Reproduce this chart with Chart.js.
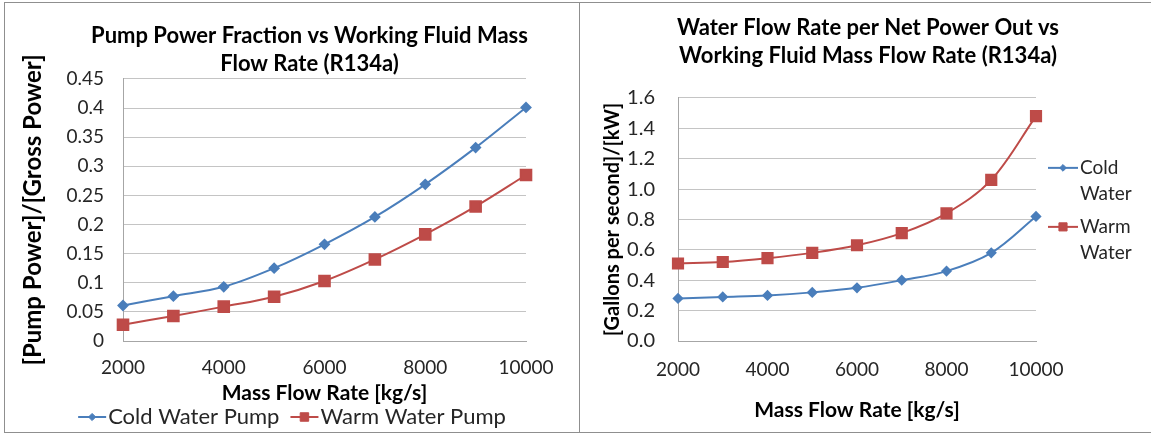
<!DOCTYPE html>
<html>
<head>
<meta charset="utf-8">
<title>R134a pump power and water flow</title>
<script src="https://cdn.jsdelivr.net/npm/chart.js@4.4.1/dist/chart.umd.min.js"></script>
<style>
  html, body { margin: 0; background: #fff; overflow: hidden; }
  .panel { position: absolute; top: 2px; height: 431px; box-sizing: border-box; border: 1px solid #8f8f8f; background: #fff; }
  #leftPanel { left: 4px; width: 577px; }
  #rightPanel { left: 579px; width: 600px; }
  canvas { display: block; }
</style>
</head>
<body>
<div class="panel" id="leftPanel"><canvas id="pumpChart" width="574" height="429"></canvas></div>
<div class="panel" id="rightPanel"><canvas id="flowChart" width="571" height="429"></canvas></div>
<script>
// Working fluid mass flow rate [kg/s]
const massFlow = [2000, 3000, 4000, 5000, 6000, 7000, 8000, 9000, 10000];

// Pump power / gross power
const coldPumpFraction = [0.061, 0.077, 0.093, 0.125, 0.166, 0.213, 0.269, 0.332, 0.401];
const warmPumpFraction = [0.028, 0.043, 0.059, 0.076, 0.103, 0.140, 0.183, 0.231, 0.285];

// Gallons per second of water per kW net
const coldWaterPerKw = [0.28, 0.29, 0.30, 0.32, 0.35, 0.40, 0.46, 0.58, 0.82];
const warmWaterPerKw = [0.51, 0.52, 0.545, 0.58, 0.63, 0.71, 0.84, 1.06, 1.48];

// axis ticks
const massTicks = [2000, 4000, 6000, 8000, 10000];
const fractionTicks = [0, 0.05, 0.1, 0.15, 0.2, 0.25, 0.3, 0.35, 0.4, 0.45];
const perKwTicks = [0, 0.2, 0.4, 0.6, 0.8, 1.0, 1.2, 1.4, 1.6];

const FONT = 'Lato, "Open Sans", sans-serif';
const BLUE = '#4a7ebb';
const RED = '#be4b48';
const GRID = '#c4c4c4';
const AXIS = '#a6a6a6';
const TEXT = '#262626';

function series(label, values, color, style, radius) {
  return {
    label,
    data: massFlow.map((x, i) => ({ x, y: values[i] })),
    borderColor: color,
    backgroundColor: color,
    pointBackgroundColor: color,
    pointBorderColor: color,
    pointStyle: style,
    pointRadius: radius,
    borderWidth: 2,
    tension: 0.35,
    clip: false
  };
}

// excel-style legend: line with marker, label can wrap to several lines
const lineLegend = {
  id: 'lineLegend',
  afterDraw(chart, args, o) {
    const { ctx, chartArea } = chart;
    const font = Chart.helpers.toFont(o.font);
    const maxW = o.maxWidth || Infinity;
    ctx.save();
    ctx.font = font.string;
    ctx.textBaseline = 'middle';
    const items = chart.data.datasets.map(ds => {
      const lines = [];
      ds.label.split(' ').forEach(word => {
        const last = lines[lines.length - 1];
        if (last && ctx.measureText(last + ' ' + word).width <= maxW) lines[lines.length - 1] = last + ' ' + word;
        else lines.push(word);
      });
      const width = Math.max(...lines.map(l => ctx.measureText(l).width));
      return { ds, lines, width };
    });
    let x, y;
    if (o.column) {
      x = chartArea.right + o.dx;
      y = chartArea.top + o.dy;
    } else {
      const total = items.reduce((s, it) => s + o.sample + o.gap + it.width, 0) + o.itemGap * (items.length - 1);
      x = (chart.width - total) / 2;
      y = chartArea.bottom + o.dy;
    }
    items.forEach(({ ds, lines, width }) => {
      ctx.strokeStyle = ds.borderColor;
      ctx.lineWidth = ds.borderWidth;
      ctx.beginPath();
      ctx.moveTo(x, y);
      ctx.lineTo(x + o.sample, y);
      ctx.stroke();
      ctx.fillStyle = ds.pointBackgroundColor;
      ctx.strokeStyle = ds.pointBorderColor;
      ctx.lineWidth = 1;
      Chart.helpers.drawPoint(ctx, { pointStyle: ds.pointStyle, radius: ds.pointRadius * 0.8, rotation: 0, borderWidth: 1 }, x + o.sample / 2, y);
      ctx.fillStyle = o.color;
      lines.forEach((line, i) => ctx.fillText(line, x + o.sample + o.gap, y + i * o.lineHeight));
      if (o.column) y += lines.length * o.lineHeight + o.itemGap;
      else x += o.sample + o.gap + width + o.itemGap;
    });
    ctx.restore();
  }
};

// nudge the chart title sideways
const titleOffset = {
  id: 'titleOffset',
  afterLayout(chart, args, o) {
    const t = chart.titleBlock;
    if (t) { t.left += o.dx; t.right += o.dx; }
  }
};

// Pump power fraction
new Chart(document.getElementById('pumpChart'), {
  type: 'line',
  data: {
    datasets: [
      series('Cold Water Pump', coldPumpFraction, BLUE, 'rectRot', 4.5),
      series('Warm Water Pump', warmPumpFraction, RED, 'rect', 7.5)
    ]
  },
  options: {
    responsive: false,
    animation: false,
    layout: { padding: { top: 0, right: 53, bottom: 26, left: 0 } },
    plugins: {
      legend: { display: false },
      tooltip: { enabled: false },
      title: {
        display: true,
        text: ['Pump Power Fraction vs Working Fluid Mass', 'Flow Rate (R134a)'],
        color: '#000',
        font: { family: FONT, size: 22, weight: 'bold', lineHeight: 1.27 },
        padding: { top: 19, bottom: 1 }
      },
      titleOffset: { dx: 44 },
      lineLegend: {
        dy: 76, sample: 28, gap: 2, itemGap: 11, lineHeight: 26,
        font: { family: FONT, size: 22 }, color: TEXT
      }
    },
    scales: {
      x: {
        type: 'linear',
        min: 2000,
        max: 10000,
        afterBuildTicks: s => { s.ticks = massTicks.map(value => ({ value })); },
        afterFit: s => { s.height = 65; },
        grid: { display: false, drawTicks: false },
        border: { color: AXIS, width: 1 },
        ticks: { padding: 15, color: TEXT, font: { family: FONT, size: 19 }, callback: v => String(v) },
        title: {
          display: true, text: 'Mass Flow Rate [kg/s]', color: '#000',
          font: { family: FONT, size: 21, weight: 'bold' }, padding: { top: 0, bottom: 0 }
        }
      },
      y: {
        min: 0,
        max: 0.45,
        afterBuildTicks: s => { s.ticks = fractionTicks.map(value => ({ value })); },
        afterFit: s => { s.width = 118; },
        grid: { color: GRID, drawTicks: false },
        border: { color: AXIS, width: 1 },
        ticks: { padding: 19, color: TEXT, font: { family: FONT, size: 19 }, callback: v => String(v) },
        title: {
          display: true, text: '[Pump Power]/[Gross Power]', color: '#000',
          font: { family: FONT, size: 24, weight: 'bold' }, padding: { top: 14, bottom: 0 }
        }
      }
    }
  },
  plugins: [lineLegend, titleOffset]
});

// Water flow per net power
new Chart(document.getElementById('flowChart'), {
  type: 'line',
  data: {
    datasets: [
      series('Cold Water', coldWaterPerKw, BLUE, 'rectRot', 4.2),
      series('Warm Water', warmWaterPerKw, RED, 'rect', 7.2)
    ]
  },
  options: {
    responsive: false,
    animation: false,
    layout: { padding: { top: 0, right: 115, bottom: 0, left: 0 } },
    plugins: {
      legend: { display: false },
      tooltip: { enabled: false },
      title: {
        display: true,
        text: ['Water Flow Rate per Net Power Out vs', 'Working Fluid Mass Flow Rate (R134a)'],
        color: '#000',
        font: { family: FONT, size: 22, weight: 'bold', lineHeight: 1.27 },
        padding: { top: 11, bottom: 28 }
      },
      titleOffset: { dx: 60 },
      lineLegend: {
        column: true, dx: 12, dy: 70, sample: 30, gap: 2, itemGap: 7, lineHeight: 26, maxWidth: 70,
        font: { family: FONT, size: 19 }, color: TEXT
      }
    },
    scales: {
      x: {
        type: 'linear',
        min: 2000,
        max: 10000,
        afterBuildTicks: s => { s.ticks = massTicks.map(value => ({ value })); },
        afterFit: s => { s.height = 91; },
        grid: { display: false, drawTicks: false },
        border: { color: AXIS, width: 1 },
        ticks: { padding: 17, color: TEXT, font: { family: FONT, size: 19 }, callback: v => String(v) },
        title: {
          display: true, text: 'Mass Flow Rate [kg/s]', color: '#000',
          font: { family: FONT, size: 21, weight: 'bold' }, padding: { top: 0, bottom: 9 }
        }
      },
      y: {
        min: 0,
        max: 1.6,
        afterBuildTicks: s => { s.ticks = perKwTicks.map(value => ({ value })); },
        afterFit: s => { s.width = 98; },
        grid: { color: GRID, drawTicks: false },
        border: { color: AXIS, width: 1 },
        ticks: { padding: 23, color: TEXT, font: { family: FONT, size: 20 }, callback: v => v.toFixed(1) },
        title: {
          display: true, text: '[Gallons per second]/[kW]', color: '#000',
          font: { family: FONT, size: 20, weight: 'bold' }, padding: { top: 21, bottom: 0 }
        }
      }
    }
  },
  plugins: [lineLegend, titleOffset]
});
</script>
</body>
</html>
